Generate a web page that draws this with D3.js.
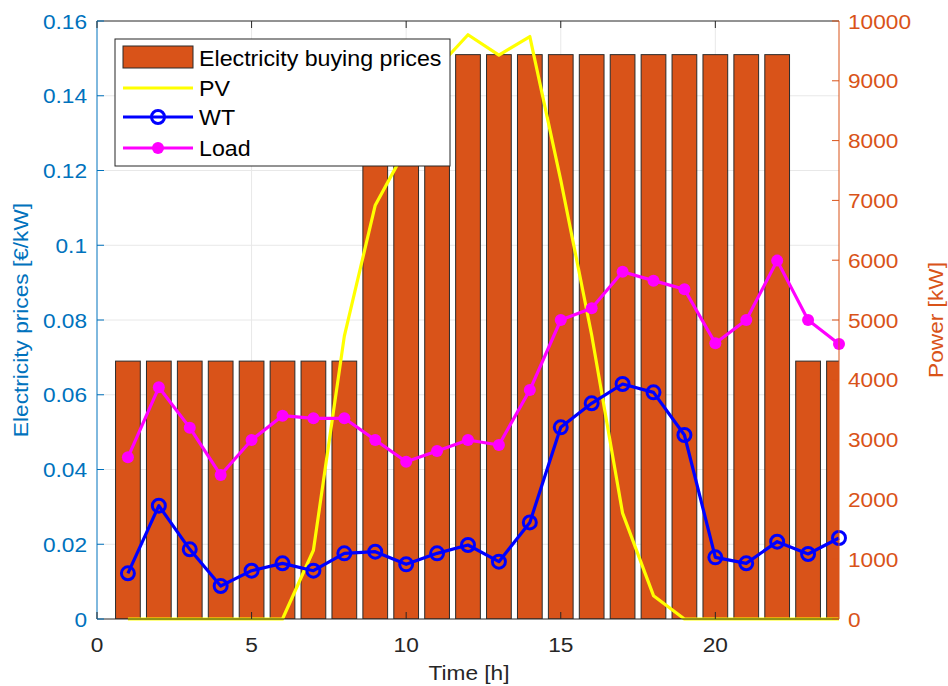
<!DOCTYPE html>
<html><head><meta charset="utf-8">
<script src="https://cdn.jsdelivr.net/npm/d3@7"></script>
<style>body{margin:0;background:#fff}svg{display:block}text{font-family:"Liberation Sans",Arial,sans-serif}</style>
</head><body><svg id="c" width="948" height="686"></svg>
<script>
const hours = d3.range(1, 25);
const prices = [0.069,0.069,0.069,0.069,0.069,0.069,0.069,0.069,0.151,0.151,0.151,0.151,0.151,0.151,0.151,0.151,0.151,0.151,0.151,0.151,0.151,0.151,0.069,0.069];
const pv = [0,0,0,0,0,0,1150,4730,6920,7870,9210,9770,9430,9740,7340,4750,1770,390,0,0,0,0,0,0];
const wt = [764,1895,1165,552,808,931,808,1098,1126,914,1098,1237,958,1615,3205,3607,3930,3790,3077,1031,931,1293,1087,1355];
const load = [2704,3875,3200,2408,2993,3400,3356,3356,2993,2630,2809,2993,2910,3829,5000,5195,5808,5658,5513,4610,5000,5993,5000,4599];
const xTicks = [0,5,10,15,20];
const yLeftTicks = [0,0.02,0.04,0.06,0.08,0.1,0.12,0.14,0.16];
const yRightTicks = [0,1000,2000,3000,4000,5000,6000,7000,8000,9000,10000];
const legendLabels = ["Electricity buying prices","PV","WT","Load"];

const L=97,R=839,T=21,B=619;
const blue="#0072BD", orange="#D95319";
const svg=d3.select("#c");
const x=d3.scaleLinear().domain([0,24]).range([L,R]);
const yl=d3.scaleLinear().domain([0,0.16]).range([B,T]);
const yr=d3.scaleLinear().domain([0,10000]).range([B,T]);
const fs=21;
const sx=1.08;
function txt(parent,tx,ty,s,opts){
  const t=parent.append("text").attr("transform",`translate(${tx},${ty})${opts.rot?" rotate(-90)":""} scale(${sx},1)`)
    .attr("text-anchor",opts.anchor||"start").attr("font-size",opts.size||fs).attr("fill",opts.fill||"#262626").text(s);
  return t;
}

// grid
const g=svg.append("g");
g.selectAll(".gx").data(xTicks.slice(1)).join("line").attr("x1",d=>x(d)).attr("x2",d=>x(d)).attr("y1",T).attr("y2",B).attr("stroke","#e8e8e8");
g.selectAll(".gy").data(yLeftTicks.slice(1,-1)).join("line").attr("x1",L).attr("x2",R).attr("y1",d=>yl(d)).attr("y2",d=>yl(d)).attr("stroke","#e8e8e8");

// bars
const bw=(x(0.8)-x(0));
svg.append("clipPath").attr("id","pc").append("rect").attr("x",L).attr("y",T).attr("width",R-L).attr("height",B-T);
const plot=svg.append("g").attr("clip-path","url(#pc)");
plot.selectAll("rect.bar").data(hours).join("rect").attr("class","bar")
 .attr("x",d=>x(d)-bw/2).attr("width",bw).attr("y",(d,i)=>yl(prices[i])).attr("height",(d,i)=>B-yl(prices[i]))
 .attr("fill",orange).attr("stroke","#2b2b2b").attr("stroke-width",1);

// lines
const lines=svg.append("g");
const line=arr=>d3.line().x((d,i)=>x(hours[i])).y(d=>yr(d))(arr);
lines.append("path").attr("d",line(pv)).attr("fill","none").attr("stroke","#ffff00").attr("stroke-width",3.2).attr("stroke-linejoin","round");
lines.append("path").attr("d",line(wt)).attr("fill","none").attr("stroke","#0000ff").attr("stroke-width",3.2).attr("stroke-linejoin","round");
lines.selectAll("circle.wt").data(wt).join("circle").attr("class","wt").attr("cx",(d,i)=>x(hours[i])).attr("cy",d=>yr(d)).attr("r",6.5).attr("fill","none").attr("stroke","#0000ff").attr("stroke-width",3);
lines.append("path").attr("d",line(load)).attr("fill","none").attr("stroke","#ff00ff").attr("stroke-width",3.2).attr("stroke-linejoin","round");
lines.selectAll("circle.ld").data(load).join("circle").attr("class","ld").attr("cx",(d,i)=>x(hours[i])).attr("cy",d=>yr(d)).attr("r",6).attr("fill","#ff00ff");

// axes frame
svg.append("line").attr("x1",L).attr("x2",R).attr("y1",T).attr("y2",T).attr("stroke","#262626");
svg.append("line").attr("x1",L).attr("x2",R).attr("y1",B).attr("y2",B).attr("stroke","#262626");
svg.append("line").attr("x1",L).attr("x2",L).attr("y1",T).attr("y2",B).attr("stroke",blue);
svg.append("line").attr("x1",R).attr("x2",R).attr("y1",T).attr("y2",B).attr("stroke",orange);

// x ticks
const xa=svg.append("g");
xTicks.forEach(t=>{
  xa.append("line").attr("x1",x(t)).attr("x2",x(t)).attr("y1",B).attr("y2",B-7).attr("stroke","#262626");
  xa.append("line").attr("x1",x(t)).attr("x2",x(t)).attr("y1",T).attr("y2",T+7).attr("stroke","#262626");
  txt(xa,x(t),B+33,t,{anchor:"middle"});
});
txt(svg,x(12)+1,680,"Time [h]",{anchor:"middle"});

// left ticks
const fmtL=d=>d===0?"0":String(+d.toFixed(2));
yLeftTicks.forEach(t=>{
  svg.append("line").attr("x1",L).attr("x2",L+7).attr("y1",yl(t)).attr("y2",yl(t)).attr("stroke",blue);
  txt(svg,L-10,yl(t)+7.5,fmtL(t),{anchor:"end",fill:blue});
});
txt(svg,28,320,"Electricity prices [€/kW]",{anchor:"middle",fill:blue,rot:true});

// right ticks
yRightTicks.forEach(t=>{
  svg.append("line").attr("x1",R).attr("x2",R-7).attr("y1",yr(t)).attr("y2",yr(t)).attr("stroke",orange);
  txt(svg,R+9,yr(t)+7.5,t,{anchor:"start",fill:orange});
});
txt(svg,943,320,"Power [kW]",{anchor:"middle",fill:orange,rot:true});

// legend
const lg=svg.append("g");
lg.append("rect").attr("x",115).attr("y",39).attr("width",335).attr("height",127).attr("fill","#fff").attr("stroke","#262626").attr("stroke-width",1);
const rows=[58,88,117,148];
lg.append("rect").attr("x",123).attr("y",46).attr("width",70).attr("height",22).attr("fill",orange).attr("stroke","#2b2b2b");
lg.append("line").attr("x1",123).attr("x2",193).attr("y1",rows[1]).attr("y2",rows[1]).attr("stroke","#ffff00").attr("stroke-width",3.2);
lg.append("line").attr("x1",123).attr("x2",193).attr("y1",rows[2]).attr("y2",rows[2]).attr("stroke","#0000ff").attr("stroke-width",3.2);
lg.append("circle").attr("cx",158).attr("cy",rows[2]).attr("r",6.5).attr("fill","none").attr("stroke","#0000ff").attr("stroke-width",3);
lg.append("line").attr("x1",123).attr("x2",193).attr("y1",rows[3]).attr("y2",rows[3]).attr("stroke","#ff00ff").attr("stroke-width",3.2);
lg.append("circle").attr("cx",158).attr("cy",rows[3]).attr("r",6).attr("fill","#ff00ff");
legendLabels.forEach((s,i)=>{
  txt(lg,199,rows[i]+8,s,{fill:"#000",size:fs+0.5});
});
</script></body></html>
